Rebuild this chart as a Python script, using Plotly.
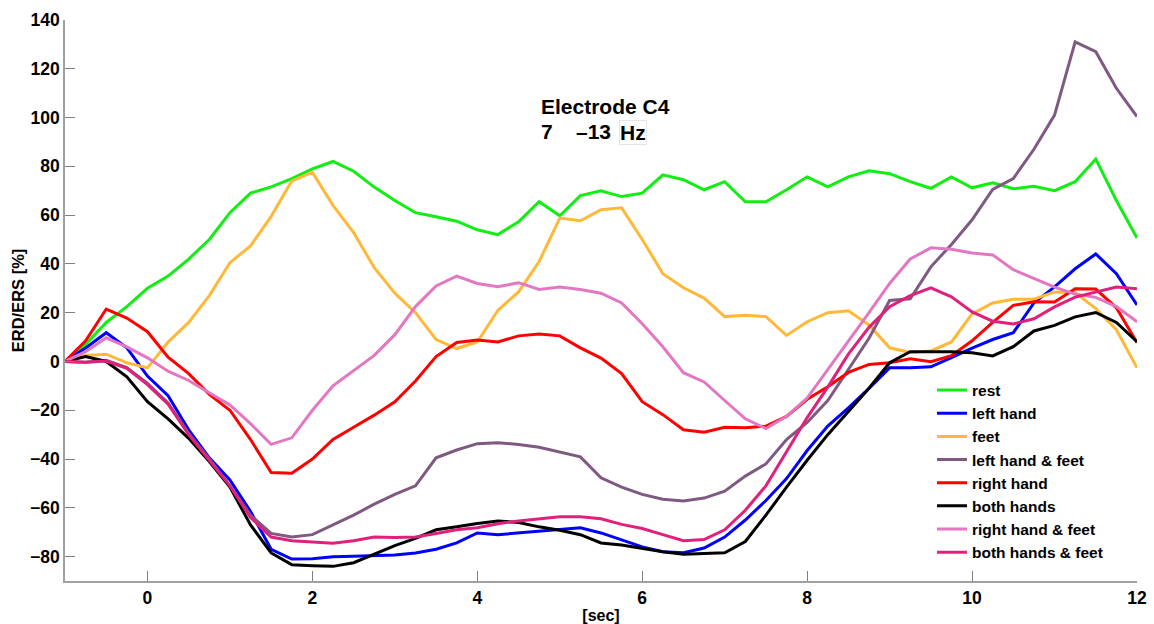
import plotly.graph_objects as go

t = [i * 0.25 - 1 for i in range(53)]

rest = [0, 7, 16, 22.5, 30, 35, 42, 50, 61, 69, 71.6, 75, 79, 82, 78, 71.5, 66, 61, 59.3, 57.5,
        54, 52, 57.3, 65.5, 59.7, 68, 70, 67.6, 69, 76.5, 74.5, 70.4, 73.7, 65.5, 65.5, 70.4,
        75.7, 71.6, 75.7, 78.2, 77, 73.7, 71, 75.7, 71.2, 73.3, 70.8, 71.8, 70, 73.7, 83, 66, 50.6]
left_hand = [0, 5.5, 11.8, 5.6, -6, -14, -28, -39.5, -48.6, -61.5, -77, -81, -80.9, -80.1, -79.9,
             -79.6, -79.3, -78.5, -77, -74.4, -70.3, -71, -70.3, -69.6, -69.2, -68.2, -70.3, -73.2,
             -76, -78, -78.4, -76.5, -72, -65, -57, -48, -36.5, -26.5, -19, -11, -2.6, -2.6, -2.2,
             1.6, 5.5, 9, 11.8, 24, 30.6, 38, 44.1, 36, 23.2]
feet = [0, 2.5, 3, -0.6, -2.6, 8, 16, 27, 40.5, 47.4, 59.5, 74, 77.5, 64, 52.8, 38.5, 28, 20, 9,
        5.3, 8, 21, 28.5, 41, 58.8, 57.7, 62.2, 63, 50, 36, 30.2, 26, 18.4, 19, 18.4, 10.7, 16.3,
        20, 20.8, 15, 5.6, 3.7, 4.3, 8, 19.5, 24, 25.5, 25.5, 28.5, 28.3, 21.7, 13, -2.6]
left_hand_feet = [0, -0.3, 0.5, -2.5, -9, -17, -29.5, -40, -51, -63, -70.5, -72, -71, -67, -63,
                  -58.5, -54.5, -51, -39.5, -36.3, -33.7, -33.3, -34, -35.2, -37, -39.1, -47.7,
                  -51.5, -54.5, -56.5, -57.2, -56, -53.2, -47, -42, -32, -25, -16, -3.3, 9.5, 25,
                  25.7, 38.8, 48, 58.1, 70.5, 75, 87, 101, 131, 127, 112, 100.4]
right_hand = [0, 8.5, 21.5, 17.8, 12.2, 1.8, -5, -13.5, -20, -32, -45.5, -45.8, -40, -32, -27, -22,
              -16.5, -8, 2, 7.8, 8.8, 8, 10.5, 11.3, 10.5, 5.6, 1.4, -5, -16.5, -21.8, -28, -29,
              -27, -27.2, -26.5, -22.5, -15.5, -10.4, -4.5, -1.2, -0.5, 1.1, -0.1, 2.4, 8.5, 16,
              23, 24.5, 24.4, 29.8, 29.7, 22, 7.7]
both_hands = [0, 2, 0, -6.3, -16.5, -23.5, -31.5, -41, -51.5, -67, -78.5, -83.3, -83.7, -84, -82.5,
              -79, -75.5, -72.5, -69, -67.8, -66.4, -65.4, -66, -67.8, -69.2, -71, -74.4, -75.2,
              -76.6, -78, -79, -78.7, -78.4, -73.8, -63, -51.5, -40.5, -30, -20.5, -11, -0.5, 4,
              4, 4, 3.6, 2.3, 6.1, 12.5, 14.8, 18.3, 20.1, 16, 8.1]
right_hand_feet = [0, 4, 9.7, 6, 1.5, -4, -7.8, -12.7, -17.8, -25.5, -34, -31.3, -20, -10, -3.8,
                   2.5, 11, 22.5, 31, 35, 32, 30.6, 32.3, 29.5, 30.5, 29.5, 28, 24, 15.5, 6, -4.6,
                   -8.4, -16, -23.5, -27.5, -22.5, -15, -3.5, 8, 20, 32, 42, 46.6, 46, 44.5, 43.7,
                   37.6, 34.2, 30.5, 27.6, 26.3, 22.5, 16.3]
both_hands_feet = [0, -0.3, 0.2, -2.8, -9.5, -17.5, -30, -40.5, -51, -64, -72, -73.5, -73.9, -74.5,
                   -73.5, -72, -72.2, -72, -70.5, -69, -68.2, -66.5, -65.4, -64.7, -63.7, -63.7,
                   -64.5, -66.8, -68.5, -71, -73.5, -73, -69, -61, -51, -37, -23, -10.5, 3, 14,
                   22.5, 27, 30.2, 26.5, 20.3, 16.5, 15.4, 17.5, 22.4, 26.4, 28.3, 30.5, 29.8]

names = ["rest", "left hand", "feet", "left hand & feet", "right hand", "both hands",
         "right hand & feet", "both hands & feet"]
series = [rest, left_hand, feet, left_hand_feet, right_hand, both_hands, right_hand_feet,
          both_hands_feet]
colors = ["#11EE11", "#0000FF", "#FFB838", "#7E5A82", "#FF0000", "#000000", "#E377C2", "#E0207A"]

x_ticks = [0, 2, 4, 6, 8, 10, 12]
y_ticks = [-80, -60, -40, -20, 0, 20, 40, 60, 80, 100, 120, 140]

fig = go.Figure()
for n, s, c in zip(names, series, colors):
    fig.add_trace(go.Scatter(x=t, y=s, name=n, mode="lines",
                             line=dict(color=c, width=3)))

font_family = "Liberation Sans, Arial, sans-serif"
axis_common = dict(showline=True, linecolor="#a0a0a0", linewidth=1.5, ticks="inside",
                   ticklen=10, tickcolor="#808080", tickwidth=1, showgrid=False,
                   zeroline=False, mirror=False, automargin=False,
                   tickfont=dict(family=font_family, size=17.5, color="black", weight="bold"))

L, R, T, B = 65, 1137, 20, 581
W, H = R - L, B - T

fig.update_layout(
    width=1154, height=624,
    margin=dict(l=L, r=1154 - R, t=T, b=624 - B),
    paper_bgcolor="white", plot_bgcolor="white",
    font=dict(family=font_family, color="black"),
    xaxis=dict(range=[-1, 12], tickvals=x_ticks,
               title=dict(text="[sec]", font=dict(family=font_family, size=16, weight="bold"),
                          standoff=4),
               **axis_common),
    yaxis=dict(range=[-90, 140], tickvals=y_ticks,
               title=dict(text="ERD/ERS [%]", font=dict(family=font_family, size=16.5, weight="bold"),
                          standoff=1),
               **axis_common),
    legend=dict(x=(932 - L) / W, y=1 - (373.5 - T) / H, xanchor="left", yanchor="top",
                bgcolor="rgba(0,0,0,0)",
                font=dict(family=font_family, size=15.5, weight="bold"), tracegroupgap=0),
    showlegend=True,
)

def px(xp):
    return (xp - L) / W

def py(yp):
    return 1 - (yp - T) / H

fig.add_annotation(x=px(539), y=py(107), xref="paper", yref="paper",
                   text="<b>Electrode C4</b>", showarrow=False, xanchor="left", yanchor="middle",
                   font=dict(family=font_family, size=21, color="black"))
fig.add_annotation(x=px(539), y=py(131), xref="paper", yref="paper",
                   text="<b>7</b>", showarrow=False, xanchor="left", yanchor="middle",
                   font=dict(family=font_family, size=21, color="black"))
fig.add_annotation(x=px(574), y=py(131), xref="paper", yref="paper",
                   text="<b>–13</b>", showarrow=False, xanchor="left", yanchor="middle",
                   font=dict(family=font_family, size=21, color="black"))
fig.add_annotation(x=px(619), y=py(132), xref="paper", yref="paper",
                   text="<b>Hz</b>", showarrow=False, xanchor="left", yanchor="middle",
                   bordercolor="#e4e4e4", borderwidth=1, borderpad=0,
                   font=dict(family=font_family, size=21, color="black"))

fig.write_html("out.html", config={"displayModeBar": False},
               post_script="document.body.style.margin='0';document.body.style.overflow='hidden';")
